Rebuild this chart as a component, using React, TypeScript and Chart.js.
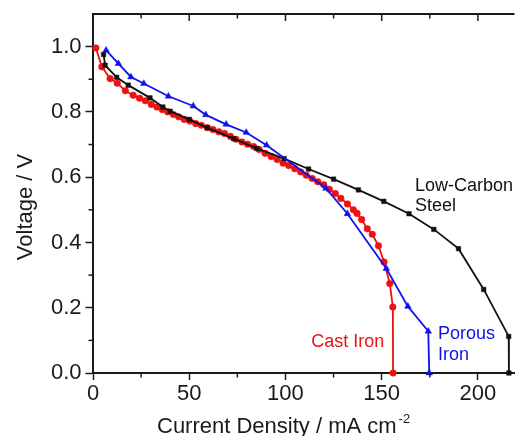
import React, { useEffect, useRef } from "react";
import { Chart, registerables } from "chart.js";

Chart.register(...registerables);

// Polarisation curves: current density (mA cm^-2) vs cell voltage (V)
const steelCurrent = [5.5, 6.3, 12.3, 18.3, 29.6, 36.3, 40.1, 50.0, 59.4, 73.1, 85.1, 99.3, 112.0, 125.0, 137.9, 151.1, 164.2, 177.1, 189.9, 203.0, 216.0, 216.1];
const steelVoltage = [0.976, 0.943, 0.906, 0.882, 0.843, 0.815, 0.802, 0.777, 0.751, 0.718, 0.688, 0.657, 0.625, 0.594, 0.561, 0.526, 0.488, 0.44, 0.381, 0.256, 0.112, 0.0];

const porousCurrent = [6.8, 13.2, 19.7, 26.4, 39.2, 52.1, 58.6, 69.2, 79.6, 90.2, 121.0, 132.2, 152.4, 163.6, 174.2, 174.7];
const porousVoltage = [0.989, 0.948, 0.907, 0.887, 0.848, 0.818, 0.791, 0.762, 0.737, 0.698, 0.566, 0.488, 0.32, 0.204, 0.128, 0.0];

const castCurrent = [1.5, 4.6, 8.9, 12.6, 16.8, 20.9, 24.2, 27.2, 30.3, 33.2, 36.0, 38.8, 41.8, 44.5, 47.4, 50.3, 53.4, 56.3, 59.4, 62.3, 65.4, 68.3, 71.4, 74.3, 77.4, 80.3, 83.4, 86.3, 89.4, 92.6, 95.7, 98.8, 101.7, 104.8, 107.9, 110.8, 113.9, 116.8, 119.9, 122.8, 125.9, 128.8, 132.2, 135.3, 137.2, 139.6, 142.5, 145.1, 148.3, 151.2, 154.2, 155.8, 155.9];
const castVoltage = [0.996, 0.938, 0.902, 0.888, 0.865, 0.851, 0.842, 0.834, 0.823, 0.815, 0.807, 0.8, 0.792, 0.785, 0.777, 0.772, 0.764, 0.759, 0.752, 0.746, 0.739, 0.734, 0.725, 0.716, 0.708, 0.701, 0.694, 0.685, 0.673, 0.663, 0.654, 0.643, 0.636, 0.626, 0.616, 0.606, 0.596, 0.586, 0.577, 0.563, 0.55, 0.535, 0.518, 0.5, 0.489, 0.47, 0.442, 0.425, 0.39, 0.34, 0.274, 0.202, 0.0];

const xMajorTicks = [0, 50, 100, 150, 200];
const xMinorTicks = [25, 75, 125, 175];
const yMajorTicks = [0, 0.2, 0.4, 0.6, 0.8, 1.0];
const yMinorTicks = [0.1, 0.3, 0.5, 0.7, 0.9];

const X_MAX = 219;
const Y_MAX = 1.1;

const FONT = "'Liberation Sans', Arial, Helvetica, sans-serif";
const AXIS = "#1a1a1a";
const RED = "#ee1111";
const BLUE = "#1111ee";
const BLACK = "#111111";

// Curve names placed next to their curves (anchor in data units, left/baseline)
const curveLabels = [
  { lines: ["Low-Carbon", "Steel"], x: 167.3, y: 0.558, color: BLACK },
  { lines: ["Cast Iron"], x: 113.4, y: 0.08, color: RED },
  { lines: ["Porous", "Iron"], x: 179.2, y: 0.103, color: BLUE },
];

const pairs = (xs: number[], ys: number[]) => xs.map((x, i) => ({ x, y: ys[i] }));

const framePlugin = {
  id: "frame",
  afterDraw(chart: any) {
    const { ctx, chartArea: a, scales } = chart;
    const x = scales.x;
    const y = scales.y;
    ctx.save();
    ctx.strokeStyle = AXIS;
    ctx.lineWidth = 1.5;
    const line = (x1: number, y1: number, x2: number, y2: number) => {
      ctx.beginPath();
      ctx.moveTo(x1, y1);
      ctx.lineTo(x2, y2);
      ctx.stroke();
    };
    // minor ticks, outward
    xMinorTicks.forEach((v) => {
      const p = x.getPixelForValue(v);
      line(p, a.bottom, p, a.bottom + 4.5);
    });
    yMinorTicks.forEach((v) => {
      const p = y.getPixelForValue(v);
      line(a.left, p, a.left - 4.5, p);
    });
    // top frame with inward ticks
    [...xMajorTicks, ...xMinorTicks].forEach((v) => {
      if (v === 0) return;
      const p = x.getPixelForValue(v);
      const len = v % 50 === 0 ? 7 : 4.5;
      line(p, a.top, p, a.top + len);
    });
    ctx.lineWidth = 2;
    line(a.left - 1, a.top, a.right, a.top);

    // axis titles
    ctx.fillStyle = AXIS;
    ctx.textAlign = "left";
    ctx.textBaseline = "alphabetic";
    ctx.font = `22px ${FONT}`;
    const main = "Current Density / mA cm";
    ctx.fillText(main, 157, 433);
    const w = ctx.measureText(main).width;
    ctx.font = `13px ${FONT}`;
    ctx.fillText("-2", 157 + w + 2, 423);

    ctx.save();
    ctx.translate(31.5, 207);
    ctx.rotate(-Math.PI / 2);
    ctx.textAlign = "center";
    ctx.font = `22px ${FONT}`;
    ctx.fillText("Voltage / V", 0, 0);
    ctx.restore();

    // curve names
    ctx.font = `18px ${FONT}`;
    ctx.textAlign = "left";
    curveLabels.forEach((lab) => {
      ctx.fillStyle = lab.color;
      const px = x.getPixelForValue(lab.x);
      const py = y.getPixelForValue(lab.y);
      lab.lines.forEach((t, i) => ctx.fillText(t, px, py + i * 20.5));
    });
    ctx.restore();
  },
};

export default function App() {
  const ref = useRef<HTMLCanvasElement | null>(null);

  useEffect(() => {
    if (!ref.current) return;
    const chart = new Chart(ref.current, {
      type: "line",
      data: {
        datasets: [
          {
            label: "Porous Iron",
            data: pairs(porousCurrent, porousVoltage),
            borderColor: BLUE,
            backgroundColor: BLUE,
            borderWidth: 1.8,
            pointStyle: "triangle",
            pointRadius: 3.8,
            pointBorderWidth: 0.5,
            pointBorderColor: BLUE,
            tension: 0,
            clip: false as any,
          },
          {
            label: "Low-Carbon Steel",
            data: pairs(steelCurrent, steelVoltage),
            borderColor: BLACK,
            backgroundColor: BLACK,
            borderWidth: 1.8,
            pointStyle: "rect",
            pointRadius: 3.2,
            pointBorderWidth: 0.5,
            pointBorderColor: BLACK,
            tension: 0,
            clip: false as any,
          },
          {
            label: "Cast Iron",
            data: pairs(castCurrent, castVoltage),
            borderColor: RED,
            backgroundColor: RED,
            borderWidth: 1.8,
            pointStyle: "circle",
            pointRadius: 3.3,
            pointBorderWidth: 0.5,
            pointBorderColor: RED,
            tension: 0,
            clip: false as any,
          },
        ],
      },
      options: {
        animation: false,
        responsive: false,
        maintainAspectRatio: false,
        layout: { padding: { left: 0, top: 14, right: 0, bottom: 0 } },
        plugins: { legend: { display: false }, tooltip: { enabled: false } },
        scales: {
          x: {
            type: "linear",
            min: 0,
            max: X_MAX,
            afterBuildTicks: (s: any) => {
              s.ticks = xMajorTicks.map((v) => ({ value: v }));
            },
            afterFit: (s: any) => {
              s.height = 63;
              s.paddingLeft = 0;
              s.paddingRight = 0;
            },
            grid: {
              display: true,
              drawOnChartArea: false,
              drawTicks: true,
              tickLength: 7,
              tickWidth: 1.5,
              tickColor: AXIS,
            },
            border: { display: true, color: AXIS, width: 2 },
            ticks: {
              color: AXIS,
              font: { family: FONT, size: 22 },
              padding: 1,
              maxRotation: 0,
              autoSkip: false,
              callback: (v: any) => String(v),
            },
          },
          y: {
            type: "linear",
            min: 0,
            max: Y_MAX,
            afterBuildTicks: (s: any) => {
              s.ticks = yMajorTicks.map((v) => ({ value: v }));
            },
            afterFit: (s: any) => {
              s.width = 93;
              s.paddingTop = 0;
              s.paddingBottom = 0;
            },
            grid: {
              display: true,
              drawOnChartArea: false,
              drawTicks: true,
              tickLength: 7.5,
              tickWidth: 1.5,
              tickColor: AXIS,
            },
            border: { display: true, color: AXIS, width: 2 },
            ticks: {
              color: AXIS,
              font: { family: FONT, size: 22 },
              padding: 4,
              autoSkip: false,
              callback: (v: any) => Number(v).toFixed(1),
            },
          },
        },
      },
      plugins: [framePlugin],
    });
    return () => chart.destroy();
  }, []);

  return (
    <div style={{ position: "absolute", left: 0, top: 0, width: 519, height: 436, background: "#fff" }}>
      <canvas ref={ref} width={519} height={436} style={{ display: "block" }} />
    </div>
  );
}
